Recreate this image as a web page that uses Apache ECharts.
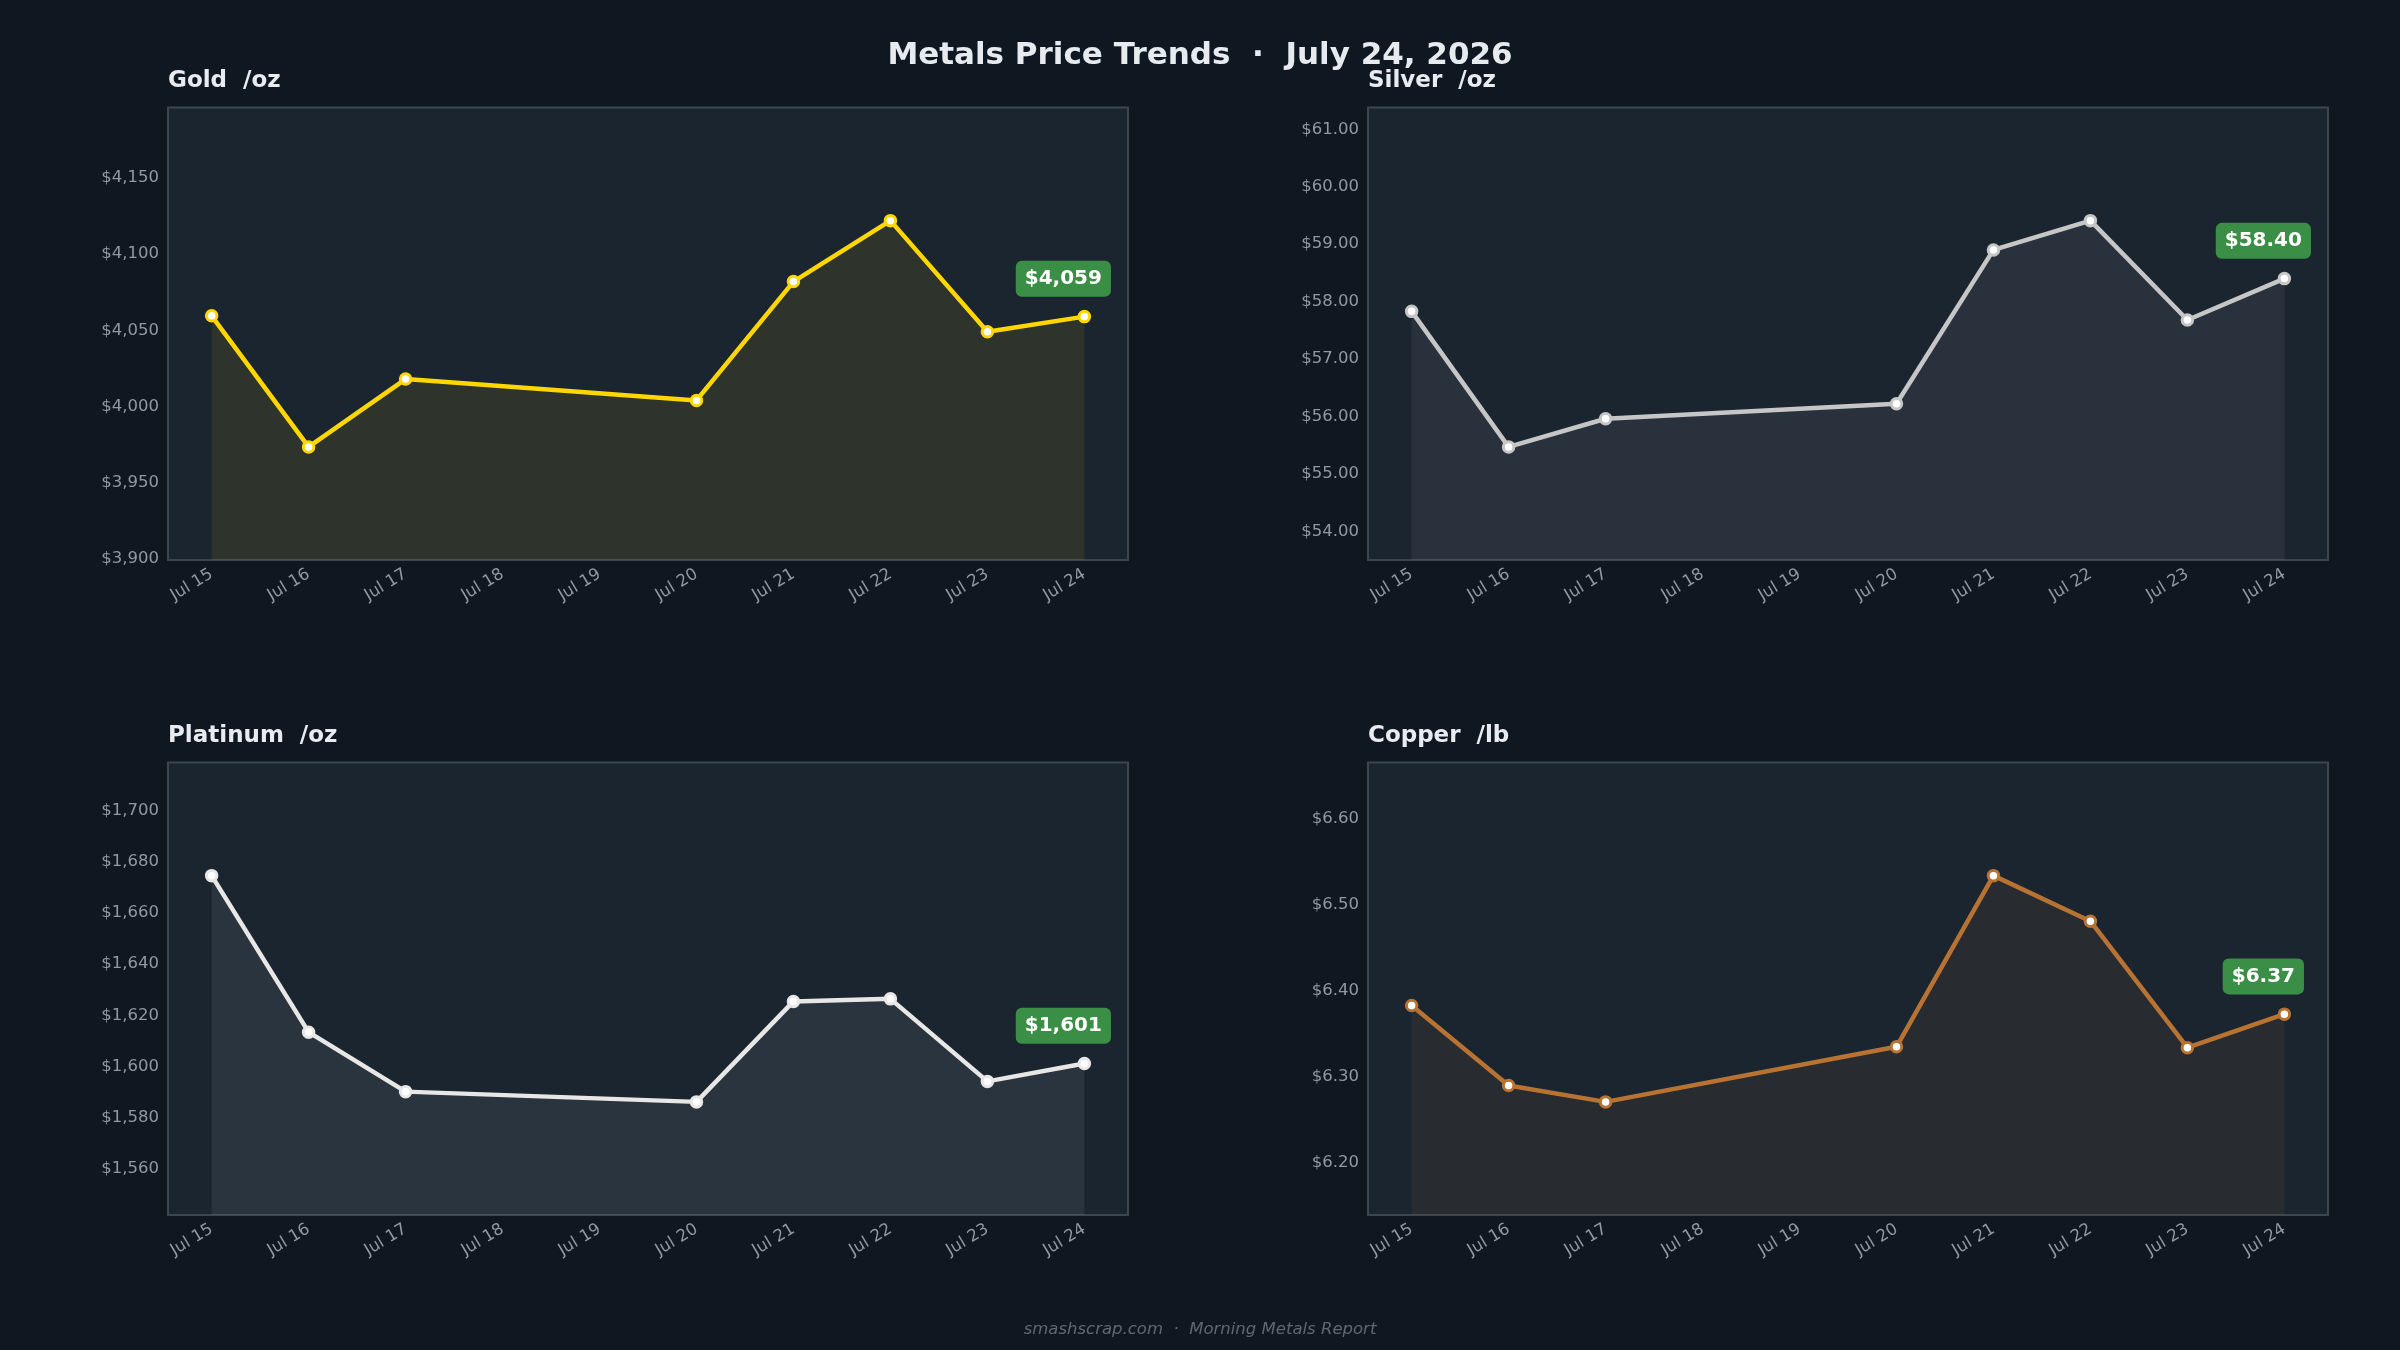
<!DOCTYPE html>
<html>
<head>
<meta charset="utf-8">
<script src="https://cdn.jsdelivr.net/npm/echarts@6/dist/echarts.min.js"></script>
<style>
html,body{margin:0;padding:0;background:#0f1821;}
#chart{width:2400px;height:1350px;}
</style>
</head>
<body>
<div id="chart"></div>
<script>
// ---- data ----
const tickLabels = ['Jul 15','Jul 16','Jul 17','Jul 18','Jul 19','Jul 20','Jul 21','Jul 22','Jul 23','Jul 24'];
const tickDays = [15,16,17,18,19,20,21,22,23,24];
const dates = ['Jul 15','Jul 16','Jul 17','Jul 20','Jul 21','Jul 22','Jul 23','Jul 24'];
const goldValues = [4059.5, 3973.5, 4018, 4004, 4082, 4122, 4049, 4059];
const silverValues = [57.83, 55.47, 55.96, 56.22, 58.90, 59.41, 57.68, 58.40];
const platinumValues = [1674.5, 1613.4, 1590.2, 1586.2, 1625.4, 1626.4, 1594.2, 1601.2];
const copperValues = [6.383, 6.290, 6.271, 6.335, 6.534, 6.481, 6.334, 6.373];
const goldTicks = [3900, 3950, 4000, 4050, 4100, 4150];
const silverTicks = [54, 55, 56, 57, 58, 59, 60, 61];
const platinumTicks = [1560, 1580, 1600, 1620, 1640, 1660, 1680, 1700];
const copperTicks = [6.2, 6.3, 6.4, 6.5, 6.6];
const panelTitles = ['Gold  /oz', 'Silver  /oz', 'Platinum  /oz', 'Copper  /lb'];
const mainTitle = 'Metals Price Trends  \u00b7  July 24, 2026';
const footer = 'smashscrap.com  \u00b7  Morning Metals Report';

// ---- rendering ----
const dayOf = s => parseInt(s.split(' ')[1], 10);
const fmtThousands = v => '$' + Math.round(v).toLocaleString('en-US');
const fmt2 = v => '$' + v.toFixed(2);

const panels = [
  {vals: goldValues, ticks: goldTicks, color: '#ffd700', fill: 'rgba(255,215,0,0.12)', fmt: fmtThousands, left: 168, top: 107.5},
  {vals: silverValues, ticks: silverTicks, color: '#c6c6c6', fill: 'rgba(192,192,192,0.12)', fmt: fmt2, left: 1368, top: 107.5},
  {vals: platinumValues, ticks: platinumTicks, color: '#e8e7e5', fill: 'rgba(229,228,226,0.11)', fmt: fmtThousands, left: 168, top: 762.5},
  {vals: copperValues, ticks: copperTicks, color: '#b87333', fill: 'rgba(184,115,51,0.12)', fmt: fmt2, left: 1368, top: 762.5}
];

const font = 'DejaVu Sans';
const grids = [], xAxes = [], yAxes = [], series = [], titles = [];

titles.push({text: mainTitle, left: 'center', top: 40, padding: 0,
  textStyle: {color: '#e6ebf0', fontSize: 31, fontWeight: 'bold', fontFamily: font, lineHeight: 31}});
titles.push({text: footer, left: 'center', top: 1321, padding: 0,
  textStyle: {color: '#5e6873', fontSize: 16.5, fontStyle: 'italic', fontWeight: 'normal', fontFamily: font, lineHeight: 17}});

panels.forEach((p, i) => {
  const lo = Math.min(...p.vals), hi = Math.max(...p.vals), r = hi - lo;
  grids.push({left: p.left, top: p.top, width: 960, height: 452.5, show: true,
    backgroundColor: '#1b2530', borderColor: '#3a4652', borderWidth: 2});
  titles.push({text: panelTitles[i], left: p.left, top: p.top - 38, padding: 0,
    textStyle: {color: '#e8ecf0', fontSize: 23, fontWeight: 'bold', fontFamily: font, lineHeight: 23}});
  xAxes.push({type: 'value', gridIndex: i, min: 14.55, max: 24.45,
    axisLine: {show: false}, axisTick: {show: false}, splitLine: {show: false},
    axisLabel: {customValues: tickDays, rotate: 31, margin: 13, color: '#8f99a4', fontSize: 16.5, fontFamily: font,
      formatter: v => tickLabels[tickDays.indexOf(Math.round(v))] || ''}});
  yAxes.push({type: 'value', gridIndex: i, min: lo - 0.5 * r, max: hi + 0.5 * r, scale: true,
    axisLine: {show: false}, axisTick: {show: false}, splitLine: {show: false},
    axisLabel: {customValues: p.ticks, margin: 9, color: '#8f99a4', fontSize: 16.5, fontFamily: font,
      formatter: v => p.fmt(v)}});
  const last = dates.length - 1;
  const data = dates.map((d, k) => {
    const item = {value: [dayOf(d), p.vals[k]]};
    if (k === last) {
      item.label = {show: true, position: 'top', distance: 13, offset: [-21, 0],
        formatter: p.fmt(p.vals[k]),
        color: '#ffffff', fontSize: 20, fontWeight: 'bold', fontFamily: font, lineHeight: 20,
        backgroundColor: '#3b8e45', borderRadius: 6, padding: [8, 9]};
    }
    return item;
  });
  series.push({type: 'line', xAxisIndex: i, yAxisIndex: i, data: data,
    symbol: 'circle', symbolSize: 10.5, showAllSymbol: true,
    lineStyle: {color: p.color, width: 4.5},
    itemStyle: {color: '#ffffff', borderColor: p.color, borderWidth: 3},
    areaStyle: {color: p.fill, origin: 'start'},
    label: {show: false}, z: 3});
});

const chart = echarts.init(document.getElementById('chart'), null, {renderer: 'canvas'});
chart.setOption({
  backgroundColor: '#0f1821',
  animation: false,
  title: titles,
  grid: grids,
  xAxis: xAxes,
  yAxis: yAxes,
  series: series
});
</script>
</body>
</html>
